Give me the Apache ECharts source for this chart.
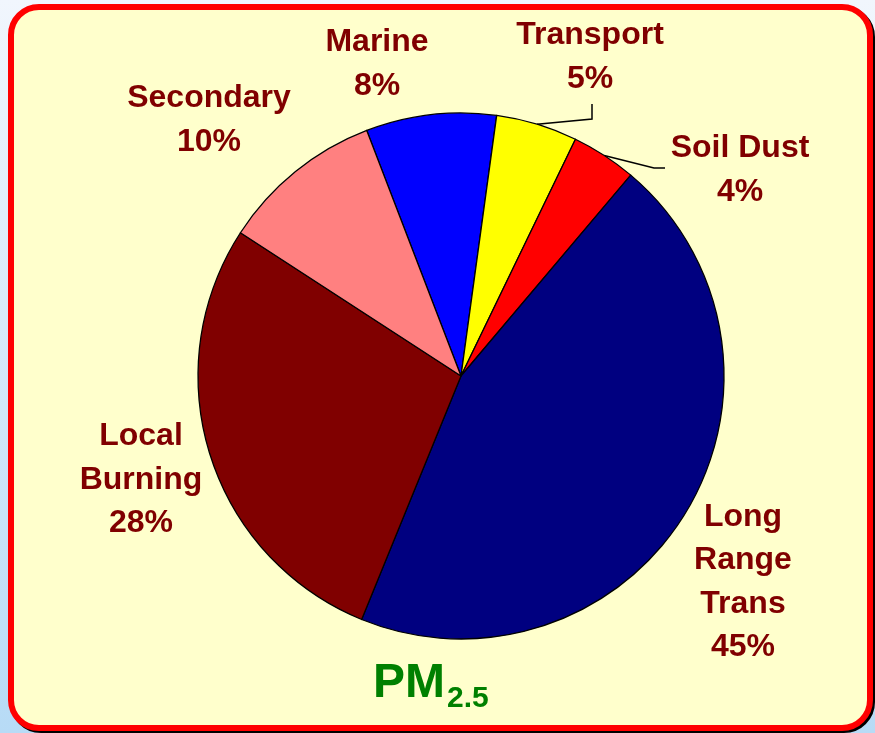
<!DOCTYPE html>
<html>
<head>
<meta charset="utf-8">
<script src="https://cdn.jsdelivr.net/npm/echarts@6/dist/echarts.min.js"></script>
<style>
html,body{margin:0;padding:0;}
#chart{width:875px;height:733px;}
</style>
</head>
<body>
<div id="chart"></div>
<script>
// Data
var categories = ['Marine', 'Transport', 'Soil Dust', 'Long Range Trans', 'Local Burning', 'Secondary'];
var labelTexts = ['Marine', 'Transport', 'Soil Dust', 'Long\nRange\nTrans', 'Local\nBurning', 'Secondary'];
var values = [8, 5, 4, 45, 28, 10];
var colors = ['#0000ff', '#ffff00', '#ff0000', '#000080', '#800000', '#ff8080'];
var titleMain = 'PM';
var titleSub = '2.5';

// Label placement (layout only)
var labelPos = [
  [377, 64],
  [590, 57],
  [740, 170],
  [743, 582],
  [141, 480],
  [209, 120]
];

var chart = echarts.init(document.getElementById('chart'), null, {renderer: 'canvas'});

var pieData = categories.map(function (c, i) {
  var item = {
    name: c,
    value: values[i],
    itemStyle: {color: colors[i]}
  };
  if (c === 'Transport' || c === 'Soil Dust') {
    item.labelLine = {show: true};
  }
  return item;
});

var option = {
  animation: false,
  backgroundColor: {
    type: 'linear', x: 0, y: 0, x2: 0, y2: 1,
    colorStops: [{offset: 0, color: '#f1f6fd'}, {offset: 1, color: '#b7dbf6'}]
  },
  graphic: [
    {
      type: 'rect',
      z: -11,
      shape: {x: 13, y: 9, width: 859, height: 721, r: 28},
      style: {fill: '#000000', stroke: '#000000', lineWidth: 6}
    },
    {
      type: 'rect',
      z: -10,
      shape: {x: 11, y: 7, width: 859, height: 721, r: 28},
      style: {
        fill: '#ffffcc',
        stroke: '#ff0000',
        lineWidth: 6
      }
    },
    {
      type: 'text',
      z: 10,
      x: 373, y: 684,
      style: {
        text: titleMain,
        fill: '#008000',
        font: 'bold 48px "Liberation Sans", Arial, sans-serif',
        align: 'left',
        verticalAlign: 'middle'
      }
    },
    {
      type: 'text',
      z: 10,
      x: 447, y: 699,
      style: {
        text: titleSub,
        fill: '#008000',
        font: 'bold 30px "Liberation Sans", Arial, sans-serif',
        align: 'left',
        verticalAlign: 'middle'
      }
    }
  ],
  series: [{
    type: 'pie',
    center: [461, 376],
    radius: 263,
    startAngle: 111,
    clockwise: true,
    avoidLabelOverlap: false,
    itemStyle: {borderColor: '#000000', borderWidth: 1.3},
    emphasis: {disabled: true},
    label: {
      show: true,
      position: 'outside',
      color: '#800000',
      fontFamily: '"Liberation Sans", Arial, sans-serif',
      fontWeight: 'bold',
      fontSize: 32,
      lineHeight: 43.5,
      align: 'center',
      formatter: function (p) {
        return labelTexts[p.dataIndex] + '\n' + p.value + '%';
      }
    },
    labelLine: {
      show: false,
      lineStyle: {color: '#000000', width: 1.5}
    },
    labelLayout: function (params) {
      var i = params.dataIndex;
      var pos = labelPos[i];
      var res = {x: pos[0], y: pos[1], align: 'center', verticalAlign: 'middle'};
      var pts = params.labelLinePoints;
      if (categories[i] === 'Transport' && pts) {
        res.labelLinePoints = [pts[0], [pos[0] + 2, 119], [pos[0] + 2, 104]];
      } else if (categories[i] === 'Soil Dust' && pts) {
        res.labelLinePoints = [pts[0], [pos[0] - 86, 168], [pos[0] - 75, 168]];
      }
      return res;
    },
    data: pieData
  }]
};

chart.setOption(option);
</script>
</body>
</html>
